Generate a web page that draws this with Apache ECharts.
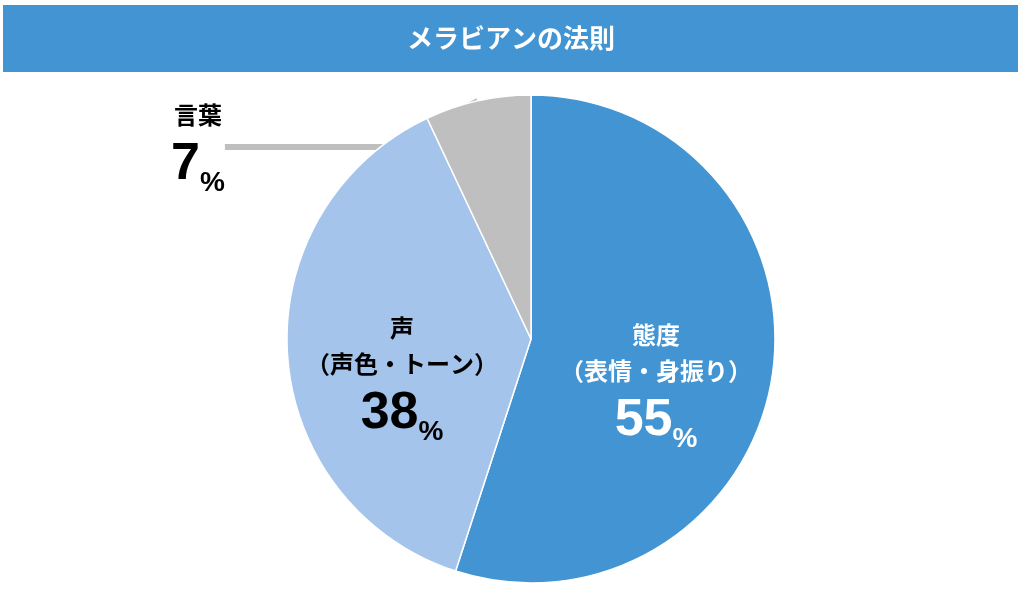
<!DOCTYPE html><html><head><meta charset="utf-8">
<script src="https://cdn.jsdelivr.net/npm/echarts@6/dist/echarts.min.js"></script>
<style>html,body{margin:0;background:#fff}#c{width:1023px;height:591px}</style></head><body><div id="c"></div>
<script>
const categories=['態度\n（表情・身振り）','声\n（声色・トーン）','言葉'];
const values=[55,38,7];
const colors=['#4295D2','#A4C4EC','#BFBFBF'];
const chart=echarts.init(document.getElementById('c'));
const F='"Noto Sans CJK JP"';
chart.setOption({
 graphic:[{type:'rect',shape:{x:3,y:5,width:1015,height:67},style:{fill:'#4295D2'}},
  {type:'text',x:511,y:38,style:{text:'メラビアンの法則',fill:'#fff',font:'bold 26px '+F,align:'center',verticalAlign:'middle'}}],
 series:[{type:'pie',center:[531,339],radius:244,startAngle:90,clockwise:true,animation:false,
  itemStyle:{borderColor:'#fff',borderWidth:1.5},
  data:categories.map((c,i)=>({name:c,value:values[i],itemStyle:{color:colors[i]},
   label:i<2?{position:'inside',color:i==0?'#fff':'#000'}:{position:'outside',color:'#000'},
   labelLine:i<2?{show:false}:{show:true,length:10,length2:170,lineStyle:{color:'#BFBFBF',width:6}}})),
  label:{fontFamily:F,fontWeight:'bold',align:'center',lineHeight:38,
   formatter:p=>{const n=p.name.split('\n');return n.map(s=>'{t|'+s+'}').join('\n')+'\n{v|'+p.value+'}{p|%}';},
   rich:{t:{fontSize:24,fontWeight:'bold',fontFamily:F,lineHeight:36},v:{fontSize:52,fontWeight:'bold',fontFamily:'Liberation Sans',lineHeight:64},p:{fontSize:28,fontWeight:'bold',fontFamily:'Liberation Sans',verticalAlign:'bottom',lineHeight:50}},
   color:'inherit'},
  labelLayout:p=>{
   if(p.dataIndex==0)return{x:656,y:385};
   if(p.dataIndex==1)return{x:402,y:378};
   return{x:198,y:147,align:'center'};
  }
 }]
});
</script></body></html>
